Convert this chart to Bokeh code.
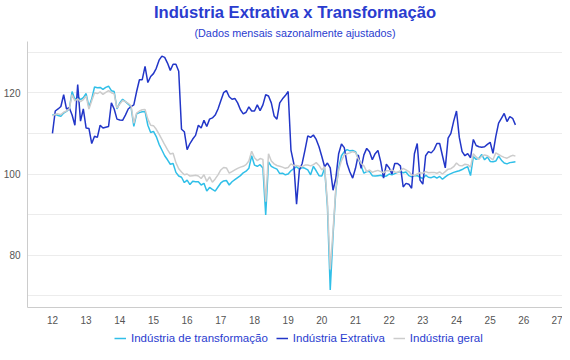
from bokeh.plotting import figure
from bokeh.models import Range1d, FixedTicker, Legend, LegendItem, Title
from bokeh.layouts import column
from bokeh.embed import file_html
from bokeh.resources import INLINE

# Monthly series, starting Jan 2012 (x axis shows two-digit years)
start_year = 12

extrativa = [
    110, 115.5, 116, 116.6, 119.5, 116, 116.3, 114.5, 112, 122, 113, 116,
    111.3, 111.2, 107.5, 109.3, 109, 112, 111.3, 111.5, 111.7, 117.5, 116, 113.5,
    113.3, 113.2, 114.5, 116, 116.6, 117, 120.3, 123.2, 123.2, 126.5, 122.5, 124,
    124.7, 126, 128, 129, 128.7, 127.3, 125.5, 127, 127, 125.3, 111, 110.4,
    106, 107.5, 108.6, 109.5, 112, 111.3, 113.2, 111.7, 113.5, 113.8, 114.5, 116,
    118, 120, 120.5, 119, 118.4, 118.6, 117.5, 115.8, 114.8, 115.2, 116.5, 115.5,
    115.5, 117, 115.6, 117, 119.5, 119.2, 117.5, 114.3, 113.5, 117.5, 118.5, 119.3,
    120.3, 105.9, 102.6, 92.6, 101, 102.6, 105.9, 109.4, 109, 109.6, 108.5, 106.7,
    104.3, 101.8, 102.7, 101.5, 96, 99, 105, 107.4, 106.5, 102.5, 100.5, 99,
    101.4, 104.7, 101.4, 104.7, 106.3, 105.5, 103.5, 105, 105.8, 103, 99, 102.4,
    101.5, 100, 102.6, 102.6, 102, 96.8, 97.7, 97.5, 96.5, 105, 107.5, 98.5,
    97.5, 104.5, 105.5, 105.2, 106, 107.5, 107.5, 104.5, 101.5, 108.8, 110, 113,
    115.5, 109, 105.5, 104.5, 105, 104, 108.5, 107, 106.7, 106.6, 106.7, 107.3,
    107.8, 105.1, 109.2, 112.5, 113.7, 114.9, 112.9, 114.1, 113.7, 112.1,
]

transformacao = [
    114.5, 114.7, 114.4, 114.2, 115, 115.4, 116, 120.3, 118.3, 119, 118.3, 118.8,
    119.8, 116.5, 118.5, 121.4, 121.2, 121.3, 120.8, 121.3, 121.6, 120.5, 120.3, 116,
    117.5, 118.4, 117.8, 117.2, 116.5, 111.7, 114.8, 115.1, 115.3, 115.4, 112, 110.2,
    110.5, 109.2, 107.3, 105.9, 104.5, 103.5, 102.4, 102.6, 100.4, 99.5, 99.2, 97.9,
    98.5, 97.4, 98.2, 98.1, 98.1, 97.3, 97.7, 95.8, 96.7, 96.2, 95.8, 96.8,
    97.8, 98.3, 98.4, 97.3, 98.1, 98.6, 99.1, 99.6, 100.3, 100.7, 101.4, 104.5,
    102.2, 101.9, 102.3, 101.5, 89.9, 103, 101.9, 101.5, 101.2, 100.1, 100.2, 99.8,
    100, 100.8, 101.3, 101.8, 101.2, 101.6, 101.4, 101, 99.8, 101.9, 100.8, 99.6,
    99.5, 101.4, 92, 71.5, 85, 96, 101.4, 104.5, 105.5, 106, 105.7, 105.8,
    105.5, 103.9, 102, 100.2, 100.6, 100.6, 99.6, 99.5, 99.6, 99.7, 99.4, 99.5,
    100, 99.8, 100.1, 100.4, 100.6, 100.3, 100.5, 99.6, 99.3, 99.6, 99.6, 99.2,
    98.9, 99.7, 99.2, 99.1, 99.4, 99, 99.4, 98.7, 99.3, 99.8, 100.1, 100.4,
    100.6, 100.8, 101.1, 101.5, 101.8, 99.6, 104.3, 103.6, 103.9, 104.8, 103.5, 104.2,
    103.1, 103, 103.2, 104.4, 103.4, 102.7, 102.5, 102.8, 102.9, 103,
]

geral = [
    114.3, 114.7, 114.8, 114.6, 115.2, 115.5, 116, 119.5, 118, 118.5, 117.8, 118.3,
    119.2, 116, 118, 120, 119.8, 120.2, 119.6, 120.1, 120.5, 120, 119.7, 116.2,
    117.2, 118.1, 117.8, 117.4, 116.8, 112.5, 115, 115.5, 115.8, 115.9, 113.5, 112,
    111.9, 111, 109.8, 108.5, 107.2, 106, 104.9, 105.1, 102.8, 101.3, 100.5, 99.8,
    100, 99.5, 99.6, 99.7, 99.5, 98.9, 99.8, 98.2, 99.3, 98, 98.8, 99.8,
    101, 101.6, 101.5, 100.2, 100.6, 101, 101.4, 101.7, 101.9, 102.3, 103.2, 105.6,
    104, 103.3, 103.8, 103.6, 93.2, 105, 103.2, 102.5, 102.1, 101.9, 101.7, 101.4,
    101.6, 102.5, 102.1, 102.1, 101.9, 101.8, 102.2, 102.2, 102, 102.3, 102.8, 102.1,
    101, 101.8, 93, 76.5, 86, 96.5, 101, 103.3, 104.7, 105, 105.2, 105.5,
    105.3, 103.7, 102.6, 102, 100.6, 101, 100.4, 100.7, 100.9, 100.6, 100.3, 100.8,
    100.8, 101, 100.5, 100.4, 100.8, 101.4, 101, 100.6, 99.8, 99.6, 100, 100.3,
    100.2, 100.6, 100.3, 100.4, 100.4, 100.2, 100.5, 100, 100.6, 101.2, 101.3, 101.8,
    102.7, 102.1, 102, 102.4, 102.3, 101.7, 105, 104.2, 103.6, 104.4, 104.7, 104.5,
    104, 103.5, 105.2, 104.8, 104.4, 104.1, 103.9, 104.3, 104.6, 104.4,
]

x_ticks = list(range(12, 28))
x_labels = [str(t) for t in x_ticks]
y_ticks = [70, 80, 90, 100, 110, 120, 130]
y_labels = ["", "80", "", "100", "", "120", ""]

series_names = ["Indústria de transformação", "Indústria Extrativa", "Indústria geral"]
series_colors = ["#30bfe8", "#2236c8", "#cccccc"]
series_values = [transformacao, extrativa, geral]

n = len(extrativa)
x = [start_year + i / 12 for i in range(n)]

FONT = "Liberation Sans"
BLUE_TXT = "#2a3ccf"
W = 562

p = figure(width=W, height=326, output_backend="svg", toolbar_location=None,
           x_range=Range1d(11.259, 27.148), y_range=Range1d(67.16, 132.6),
           min_border_left=5, min_border_right=0, min_border_top=5, min_border_bottom=0)

p.title.text = "Indústria Extrativa x Transformação"
p.title.align = "center"
p.title.text_font = FONT
p.title.text_font_size = "16.6px"
p.title.text_font_style = "bold"
p.title.text_color = BLUE_TXT
p.title.standoff = 0
sub = Title(text="(Dados mensais sazonalmente ajustados)", align="center",
            text_font=FONT, text_font_size="10.8px", text_font_style="normal",
            text_color=BLUE_TXT, standoff=6)
p.add_layout(sub, "above")

renderers = []
for ys, c in zip(series_values, series_colors):
    r = p.line(x, ys, line_color=c, line_width=1.5)
    renderers.append(r)

p.xaxis.ticker = FixedTicker(ticks=x_ticks)
p.xaxis.major_label_overrides = {t: l for t, l in zip(x_ticks, x_labels)}
p.yaxis.ticker = FixedTicker(ticks=y_ticks)
p.yaxis.major_label_overrides = {t: l for t, l in zip(y_ticks, y_labels)}
for ax in (p.xaxis, p.yaxis):
    ax.major_tick_line_color = None
    ax.minor_tick_line_color = None
    ax.major_tick_out = 0
    ax.major_tick_in = 0
    ax.minor_tick_out = 0
    ax.minor_tick_in = 0
    ax.axis_line_color = "#cccccc"
    ax.major_label_text_color = "#555555"
    ax.major_label_text_font = FONT
    ax.major_label_text_font_size = "10px"
p.xaxis.major_label_standoff = 8
p.yaxis.major_label_standoff = 7

p.xgrid.visible = False
p.ygrid.ticker = FixedTicker(ticks=y_ticks)
p.ygrid.grid_line_color = "#ececec"
p.outline_line_color = None

# Legend strip below the chart (series drawn outside its visible range, only legend shows)
lg = figure(width=W, height=18, output_backend="svg", toolbar_location=None,
            x_range=Range1d(0, 1), y_range=Range1d(0, 1),
            min_border_left=0, min_border_right=0, min_border_top=0, min_border_bottom=0)
lg.axis.visible = False
lg.grid.visible = False
lg.outline_line_color = None
proxies = [lg.line(x, ys, line_color=c, line_width=1.5) for ys, c in zip(series_values, series_colors)]
legend = Legend(items=[LegendItem(label=nm, renderers=[r]) for nm, r in zip(series_names, proxies)],
                orientation="horizontal", location=(87, 0),
                border_line_color=None, background_fill_alpha=0,
                label_text_font=FONT, label_text_font_size="11.5px", label_text_color=BLUE_TXT,
                glyph_width=12, glyph_height=10, spacing=8, label_standoff=5,
                padding=0, margin=0)
lg.add_layout(legend)

open("out.html", "w").write(file_html(column(p, lg), INLINE))
